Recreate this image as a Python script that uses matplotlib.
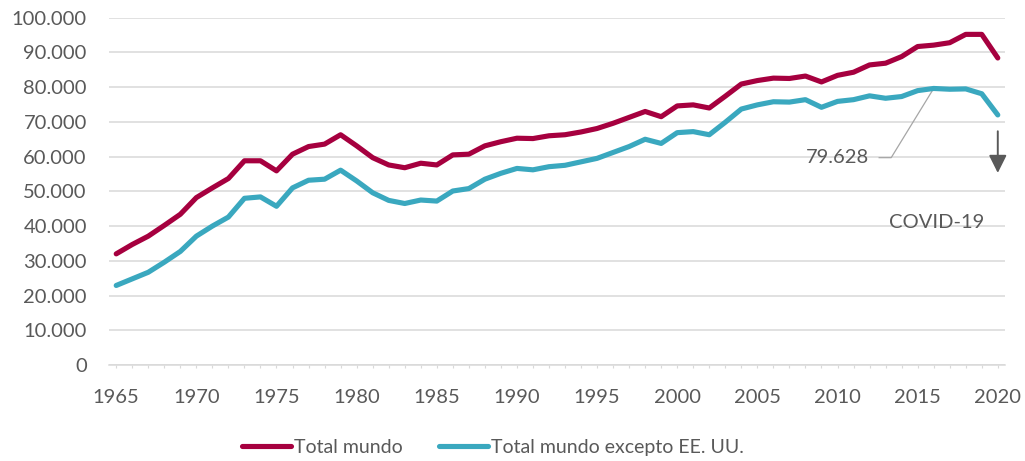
import matplotlib
matplotlib.use("Agg")
import matplotlib.pyplot as plt
from matplotlib.ticker import FuncFormatter, MultipleLocator

years = list(range(1965, 2021))
total_mundo = [32000, 34700, 37100, 40200, 43400, 48200, 51000, 53700, 58800, 58800,
               55900, 60700, 62900, 63600, 66300, 63100, 59700, 57600, 56800, 58100,
               57600, 60500, 60700, 63100, 64300, 65300, 65200, 66000, 66300, 67100,
               68100, 69600, 71300, 73000, 71500, 74600, 74900, 74000, 77400, 80900,
               81900, 82600, 82500, 83200, 81500, 83400, 84300, 86400, 86900, 88800,
               91700, 92100, 92800, 95200, 95200, 88400]
total_sin_eeuu = [22900, 24800, 26700, 29600, 32700, 37100, 40000, 42600, 48000, 48400,
                  45700, 51000, 53200, 53500, 56100, 53000, 49600, 47400, 46500, 47500,
                  47200, 50100, 50800, 53500, 55200, 56600, 56200, 57100, 57500, 58500,
                  59500, 61200, 62900, 65000, 63800, 66900, 67200, 66300, 69900, 73700,
                  74900, 75800, 75700, 76400, 74200, 75900, 76400, 77500, 76800, 77300,
                  79000, 79628, 79400, 79500, 78100, 72000]
series_labels = ["Total mundo", "Total mundo excepto EE. UU."]
peak_year = 2016
peak_value = 79628

RED = "#A6003F"
TEAL = "#3AA8BF"
GRAY_TXT = "#595959"
GRID = "#D9D9D9"

plt.rcParams['font.family'] = ['Lato', 'DejaVu Sans']

fig = plt.figure(figsize=(10.25, 4.61), dpi=100)
ax = fig.add_axes([109/1025, 1 - 365/461, (1005 - 109)/1025, (365 - 17.7)/461])

ax.plot(years, total_mundo, color=RED, lw=3.7, solid_capstyle='round',
        solid_joinstyle='round', label=series_labels[0], zorder=3, clip_on=False)
ax.plot(years, total_sin_eeuu, color=TEAL, lw=3.7, solid_capstyle='round',
        solid_joinstyle='round', label=series_labels[1], zorder=3, clip_on=False)

ax.set_xlim(1964.55, 2020.45)
ax.set_ylim(0, 100000)
ax.yaxis.set_major_locator(MultipleLocator(10000))
ax.xaxis.set_major_locator(MultipleLocator(5))
ax.xaxis.set_minor_locator(MultipleLocator(1))
ax.yaxis.set_major_formatter(FuncFormatter(lambda v, p: f"{int(v):,}".replace(",", ".")))
ax.xaxis.set_major_formatter(FuncFormatter(lambda v, p: f"{int(v)}"))

ax.grid(axis='y', color=GRID, lw=1.1, zorder=0)
ax.set_axisbelow(True)
for s in ['top', 'right', 'left']:
    ax.spines[s].set_visible(False)
ax.spines['bottom'].set_color(GRID)
ax.spines['bottom'].set_linewidth(1.1)

ax.tick_params(axis='y', length=0, pad=16, labelsize=14.5, labelcolor=GRAY_TXT)
ax.tick_params(axis='x', which='both', direction='out', length=2.5, width=0.8,
               color=GRID, labelsize=14.5, labelcolor=GRAY_TXT, pad=15)

# annotation for peak
ax.plot([2012.6, 2013.35, peak_year], [59700, 59700, peak_value], color="#A6A6A6",
        lw=0.9, zorder=2)
ax.text(2012.0, 59700, f"{peak_value:,}".replace(",", "."), ha='right', va='center',
        fontsize=14.5, color=GRAY_TXT)

# COVID arrow
ax.annotate("", xy=(2020, 55300), xytext=(2020, 67300),
            arrowprops=dict(arrowstyle='-|>,head_length=0.6,head_width=0.3',
                            mutation_scale=18, color=GRAY_TXT, lw=1.4,
                            shrinkA=0, shrinkB=0))
ax.text(2016.2, 40900, "COVID-19", ha='center', va='center', fontsize=14.5,
        color=GRAY_TXT)

leg = fig.legend(loc='center', bbox_to_anchor=(493/1025, 1 - 447/461), ncol=2,
                 frameon=False, fontsize=14, handlelength=2.5, handletextpad=0.15,
                 columnspacing=1.9, labelcolor=GRAY_TXT)

fig.savefig("out.png", dpi=100)
